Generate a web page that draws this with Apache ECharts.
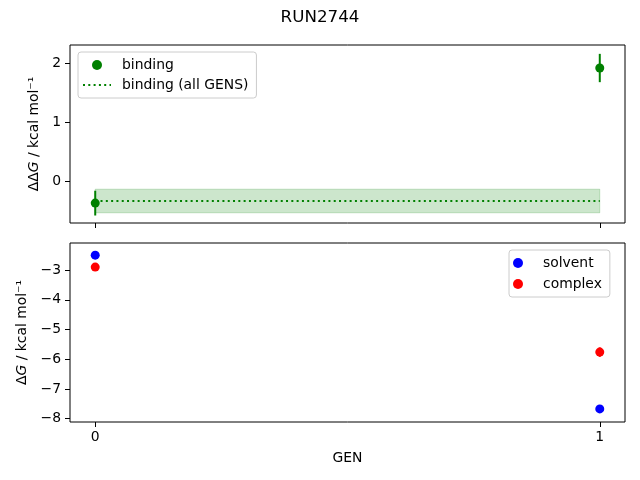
<!DOCTYPE html>
<html>
<head>
<meta charset="utf-8">
<script src="https://cdn.jsdelivr.net/npm/echarts@6/dist/echarts.min.js"></script>
<style>
  html, body { margin: 0; padding: 0; background: #fff; }
  #main { width: 640px; height: 480px; }
</style>
</head>
<body>
<div id="main"></div>
<script>
const gens = [0, 1];
const binding = [-0.37, 1.92];
const bindingErr = [0.21, 0.24];
const bindingAll = -0.334;
const bindingAllErr = 0.2;
const solvent = [-2.5, -7.67];
const solventErr = [0.03, 0.03];
const complex = [-2.9, -5.76];
const complexErr = [0.03, 0.16];
const topTicks = [0, 1, 2];
const bottomTicks = [-8, -7, -6, -5, -4, -3];

const font = 'DejaVu Sans';
const minus = (v) => String(v).replace('-', '\u2212');

const myChart = echarts.init(document.getElementById('main'));

const errData = (vals, errs) => gens.map((g, i) => [g, vals[i] - errs[i], vals[i] + errs[i]]);

const errSeries = (name, idx, vals, errs, color) => ({
  name: name,
  type: 'custom',
  xAxisIndex: idx,
  yAxisIndex: idx,
  encode: { x: 0, y: [1, 2] },
  data: errData(vals, errs),
  z: 3,
  renderItem: (params, api) => {
    const a = api.coord([api.value(0), api.value(1)]);
    const b = api.coord([api.value(0), api.value(2)]);
    return {
      type: 'line',
      shape: { x1: a[0], y1: a[1], x2: b[0], y2: b[1] },
      style: { stroke: color, lineWidth: 2 },
    };
  },
});

const xAxisBase = (idx) => ({
  type: 'value',
  gridIndex: idx,
  min: -0.05,
  max: 1.05,
  splitLine: { show: false },
  axisLine: { show: false, onZero: false },
  axisTick: { show: true, length: 5, customValues: gens, lineStyle: { color: '#000' } },
  axisLabel: {
    show: idx === 1,
    customValues: gens,
    margin: 8,
    color: '#000',
    fontFamily: font,
    fontSize: 13.9,
  },
});

const legendBase = {
  orient: 'vertical',
  itemWidth: 28,
  itemHeight: 10,
  itemGap: 6,
  padding: [6, 8, 6, 4],
  borderColor: '#cccccc',
  borderWidth: 1,
  borderRadius: 3,
  backgroundColor: 'rgba(255,255,255,0.8)',
  textStyle: { fontFamily: font, fontSize: 13.9, color: '#000', padding: [0, 0, 0, 6] },
};

const option = {
  animation: false,
  backgroundColor: '#fff',
  title: {
    text: 'RUN2744',
    left: 'center',
    top: 4,
    textStyle: { fontFamily: font, fontSize: 16.7, fontWeight: 'normal', color: '#000' },
  },
  grid: [
    { left: 70, right: 15, top: 45, height: 178, show: true, borderColor: '#000', borderWidth: 1, backgroundColor: 'transparent' },
    { left: 70, right: 15, top: 243, height: 179, show: true, borderColor: '#000', borderWidth: 1, backgroundColor: 'transparent' },
  ],
  legend: [
    Object.assign({}, legendBase, {
      data: ['binding', { name: 'binding (all GENS)', itemStyle: { opacity: 0 } }],
      left: 78,
      top: 52,
    }),
    Object.assign({}, legendBase, {
      data: ['solvent', 'complex'],
      left: 509,
      top: 250,
      itemGap: 7,
    }),
  ],
  xAxis: [
    xAxisBase(0),
    Object.assign(xAxisBase(1), {
      name: 'GEN',
      nameLocation: 'middle',
      nameGap: 29,
      nameTextStyle: { fontFamily: font, fontSize: 13.9, color: '#000' },
    }),
  ],
  yAxis: [
    {
      type: 'value',
      gridIndex: 0,
      min: -0.707,
      max: 2.31,
      splitLine: { show: false },
      axisLine: { show: false, onZero: false },
      axisTick: { show: true, length: 5, customValues: topTicks, lineStyle: { color: '#000' } },
      axisLabel: { customValues: topTicks, formatter: minus, margin: 9, color: '#000', fontFamily: font, fontSize: 13.9 },
      name: '{a|ΔΔ}{i|G}{a| / kcal mol⁻¹}',
      nameLocation: 'middle',
      nameGap: 25,
      nameRotate: 90,
      nameTextStyle: {
        rich: {
          a: { fontFamily: font, fontSize: 13.9, color: '#000' },
          i: { fontFamily: font, fontSize: 13.9, color: '#000', fontStyle: 'italic' },
        },
      },
    },
    {
      type: 'value',
      gridIndex: 1,
      min: -8.11,
      max: -2.09,
      splitLine: { show: false },
      axisLine: { show: false, onZero: false },
      axisTick: { show: true, length: 5, customValues: bottomTicks, lineStyle: { color: '#000' } },
      axisLabel: { customValues: bottomTicks, formatter: minus, margin: 9, color: '#000', fontFamily: font, fontSize: 13.9 },
      name: '{a|Δ}{i|G}{a| / kcal mol⁻¹}',
      nameLocation: 'middle',
      nameGap: 37,
      nameRotate: 90,
      nameTextStyle: {
        rich: {
          a: { fontFamily: font, fontSize: 13.9, color: '#000' },
          i: { fontFamily: font, fontSize: 13.9, color: '#000', fontStyle: 'italic' },
        },
      },
    },
  ],
  series: [
    {
      name: 'binding (all GENS)',
      type: 'line',
      xAxisIndex: 0,
      yAxisIndex: 0,
      symbol: 'none',
      data: gens.map((g) => [g, bindingAll]),
      lineStyle: { color: '#008000', width: 2, type: [2, 3.3] },
      itemStyle: { color: '#008000' },
      z: 2,
      markArea: {
        silent: true,
        itemStyle: { color: 'rgba(0,128,0,0.2)', borderColor: 'rgba(0,128,0,0.2)', borderWidth: 1 },
        data: [[{ xAxis: gens[0], yAxis: bindingAll - bindingAllErr }, { xAxis: gens[1], yAxis: bindingAll + bindingAllErr }]],
      },
    },
    errSeries('binding err', 0, binding, bindingErr, '#008000'),
    {
      name: 'binding',
      type: 'scatter',
      xAxisIndex: 0,
      yAxisIndex: 0,
      symbolSize: 9,
      itemStyle: { color: '#008000', opacity: 1 },
      data: gens.map((g, i) => [g, binding[i]]),
      z: 4,
    },
    errSeries('solvent err', 1, solvent, solventErr, '#0000ff'),
    errSeries('complex err', 1, complex, complexErr, '#ff0000'),
    {
      name: 'solvent',
      type: 'scatter',
      xAxisIndex: 1,
      yAxisIndex: 1,
      symbolSize: 9,
      itemStyle: { color: '#0000ff', opacity: 1 },
      data: gens.map((g, i) => [g, solvent[i]]),
      z: 4,
    },
    {
      name: 'complex',
      type: 'scatter',
      xAxisIndex: 1,
      yAxisIndex: 1,
      symbolSize: 9,
      itemStyle: { color: '#ff0000', opacity: 1 },
      data: gens.map((g, i) => [g, complex[i]]),
      z: 4,
    },
  ],
};

myChart.setOption(option);
</script>
</body>
</html>
